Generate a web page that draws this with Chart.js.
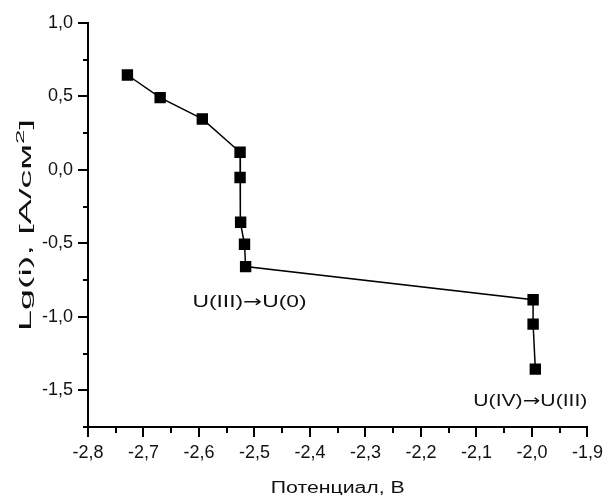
<!DOCTYPE html>
<html>
<head>
<meta charset="utf-8">
<script src="https://cdn.jsdelivr.net/npm/chart.js@4.4.1/dist/chart.umd.min.js"></script>
<style>
  html, body { margin: 0; padding: 0; background: #fff; }
</style>
</head>
<body>
<canvas id="polChart" width="608" height="495"></canvas>
<script>
// Potential (V) vs lg of current density
const potential = [-2.729, -2.670, -2.594, -2.526, -2.526, -2.525, -2.518, -2.516, -1.998, -1.998, -1.994];
const lgCurrent = [0.646, 0.492, 0.347, 0.120, -0.052, -0.356, -0.506, -0.658, -0.884, -1.050, -1.356];

const xMajor = [-2.8, -2.7, -2.6, -2.5, -2.4, -2.3, -2.2, -2.1, -2.0, -1.9];
const xLabels = ['-2,8', '-2,7', '-2,6', '-2,5', '-2,4', '-2,3', '-2,2', '-2,1', '-2,0', '-1,9'];
const yMajor = [-1.5, -1.0, -0.5, 0.0, 0.5, 1.0];
const yLabels = ['-1,5', '-1,0', '-0,5', '0,0', '0,5', '1,0'];

// process labels: [from, to], anchored at centre/baseline in data units
const notes = [['U(III)', 'U(0)'], ['U(IV)', 'U(III)']];
const noteX = [-2.509, -2.003];
const noteY = [-0.932, -1.605];

const FONT = '"Liberation Sans", Arial, sans-serif';
const ARROW_FONT = '"DejaVu Sans", sans-serif';

function majorIndex(list, v) {
    return list.findIndex(m => Math.abs(m - v) < 1e-6);
}

// draws pieces [{text, font, dy}] left to right starting at x=0
function drawPieces(ctx, pieces) {
    let x = 0;
    pieces.forEach(p => {
        ctx.font = p.font;
        ctx.fillText(p.text, x, p.dy || 0);
        x += ctx.measureText(p.text).width;
    });
}
function piecesWidth(ctx, pieces) {
    return pieces.reduce((w, p) => { ctx.font = p.font; return w + ctx.measureText(p.text).width; }, 0);
}

// stretched text run centred on (cx, by), optionally rotated
function stretchedText(ctx, pieces, cx, by, width, angle) {
    const w = piecesWidth(ctx, pieces);
    ctx.save();
    ctx.translate(cx, by);
    if (angle) ctx.rotate(angle);
    ctx.scale(width / w, 1);
    ctx.translate(-w / 2, 0);
    drawPieces(ctx, pieces);
    ctx.restore();
}

const decorations = {
    id: 'decorations',
    afterDraw(chart) {
        const ctx = chart.ctx;
        const xs = chart.scales.x, ys = chart.scales.y;
        ctx.save();

        // outward ticks: long at labelled values, short in between
        ctx.strokeStyle = '#000';
        ctx.lineWidth = 2;
        ctx.beginPath();
        xs.ticks.forEach(t => {
            const px = Math.round(xs.getPixelForValue(t.value));
            const len = majorIndex(xMajor, t.value) >= 0 ? 10 : 6;
            ctx.moveTo(px, xs.top);
            ctx.lineTo(px, xs.top + len);
        });
        ys.ticks.forEach(t => {
            const py = Math.round(ys.getPixelForValue(t.value));
            const len = majorIndex(yMajor, t.value) >= 0 ? 10 : 5;
            ctx.moveTo(ys.right, py);
            ctx.lineTo(ys.right - len, py);
        });
        ctx.stroke();

        ctx.fillStyle = '#111';
        ctx.textAlign = 'left';
        ctx.textBaseline = 'alphabetic';

        // process annotations
        notes.forEach((n, i) => {
            const pieces = [
                { text: n[0], font: '16px ' + FONT },
                { text: '\u2192', font: '16px ' + ARROW_FONT },
                { text: n[1], font: '16px ' + FONT }
            ];
            stretchedText(ctx, pieces, xs.getPixelForValue(noteX[i]), ys.getPixelForValue(noteY[i]), 114, 0);
        });

        // axis titles
        const cxTitle = (xs.left + xs.right) / 2;
        stretchedText(ctx, [{ text: 'Потенциал, В', font: '16px ' + FONT }], cxTitle, 493, 134, 0);

        const cyTitle = (ys.top + ys.bottom) / 2;
        stretchedText(ctx, [
            { text: 'Lg(i), [A/см', font: '16px ' + FONT },
            { text: '2', font: '11px ' + FONT, dy: -7 },
            { text: ']', font: '16px ' + FONT }
        ], 31, cyTitle, 212, -Math.PI / 2);

        ctx.restore();
    }
};

new Chart(document.getElementById('polChart'), {
    type: 'scatter',
    data: {
        datasets: [{
            data: potential.map((x, i) => ({ x, y: lgCurrent[i] })),
            showLine: true,
            borderColor: '#000',
            borderWidth: 1.5,
            backgroundColor: '#000',
            pointStyle: 'rect',
            pointRadius: 7,
            pointHoverRadius: 7
        }]
    },
    options: {
        responsive: false,
        animation: false,
        layout: { padding: { top: 23, right: 18, left: 0, bottom: 0 } },
        plugins: { legend: { display: false }, tooltip: { enabled: false } },
        scales: {
            x: {
                type: 'linear',
                min: -2.8, max: -1.9,
                afterFit: s => { s.height = 68; },
                afterBuildTicks: s => {
                    s.ticks = [];
                    for (let i = 0; i <= 18; i++) s.ticks.push({ value: -2.8 + i * 0.05 });
                },
                ticks: {
                    color: '#111',
                    font: { family: FONT, size: 18 },
                    padding: 5,
                    maxRotation: 0,
                    autoSkip: false,
                    callback: v => { const k = majorIndex(xMajor, v); return k >= 0 ? xLabels[k] : ''; }
                },
                grid: { color: 'transparent', drawOnChartArea: false, tickLength: 10 },
                border: { display: true, color: '#000', width: 2 }
            },
            y: {
                type: 'linear',
                min: -1.75, max: 1.0,
                afterFit: s => { s.width = 88; },
                afterBuildTicks: s => {
                    s.ticks = [];
                    for (let i = 0; i <= 11; i++) s.ticks.push({ value: -1.75 + i * 0.25 });
                },
                ticks: {
                    color: '#111',
                    font: { family: FONT, size: 18 },
                    padding: 5,
                    autoSkip: false,
                    callback: v => { const k = majorIndex(yMajor, v); return k >= 0 ? yLabels[k] : ''; }
                },
                grid: { color: 'transparent', drawOnChartArea: false, tickLength: 10 },
                border: { display: true, color: '#000', width: 2 }
            }
        }
    },
    plugins: [decorations]
});
</script>
</body>
</html>
